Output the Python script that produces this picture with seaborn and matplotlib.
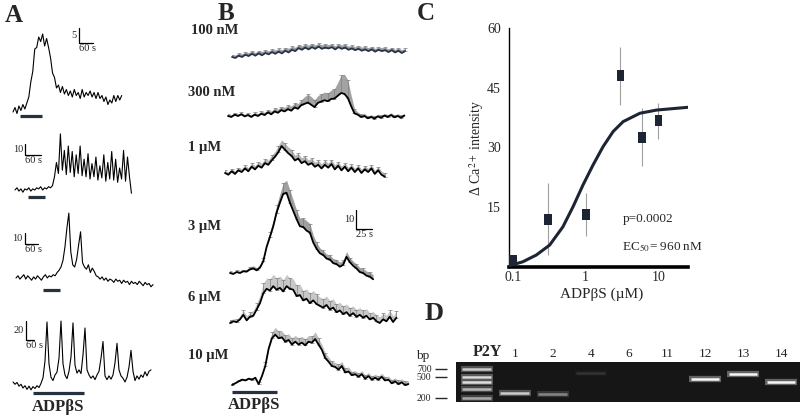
import matplotlib
matplotlib.use('Agg')
import matplotlib.pyplot as plt
import numpy as np
import seaborn as sns
from matplotlib.ticker import NullLocator

sns.set_style('white')
plt.rcParams['font.family'] = ['Liberation Serif', 'DejaVu Serif']
plt.rcParams['mathtext.fontset'] = 'stix'

# ---------------- datos ----------------
# A: trazas de celulas individuales (unidades de la barra de escala)
a1_dt = 8.5
a1 = [0, 1.5, -0.5, 2, 0.5, 2.5, 1, 3, 5, 10, 13.5, 21, 21.5, 25, 23.5, 26, 22, 24.5, 21.5, 18,
      13, 11.5, 8, 9, 6.5, 8.5, 6, 7.5, 5.5, 7, 5, 7.5, 5.5, 6.5, 4.5, 7.5, 5, 6.5, 5.5, 7,
      5, 6.5, 4.5, 6.5, 4.5, 5.5, 3.5, 5, 2.5, 4, 3, 5.5, 3.5, 5.5, 4, 5.5]
a2_dt = 7.5
a2 = [0, 2, -1, 1, -2, 1, 0, 2, -1, 1, 0, 2, 1, 3, 0, 2, 1, 3, 2, 4,
      12, 25, 15, 51, 18, 36, 14, 40, 16, 35, 12, 32, 15, 40, 13, 28, 12, 33, 10, 24,
      12, 30, 9, 22, 11, 32, 8, 25, 10, 35, 9, 28, 7, 20, 10, 36, 8, 30, 12, -3]
a3_dt = 9
a3 = [0, 2, -1, 1, 3, -1, 2, 0, -2, 1, -1, 2, 0, -2, 1, 3, 0, 2, 1, 3,
      2, 5, 7, 10, 16, 28, 45, 59, 24, 12, 10, 17, 30, 42, 14, 10, 8, 12, 5, 9,
      6, 2, 1, -1, 1, -2, 0, -3, -1, -2, -4, -1, -3, -2, -5, -2, -4, -3, -6, -3,
      -5, -4, -6, -3, -5, -7, -4, -6, -5, -8, -6]
a4_dt = 15
a4 = [6.5, 4, 6, 2, 4, 0, 2.5, -1.5, 2, -2, 1.5, -0.5, 2.5, 0.5, 5, 11, 29, 71, 26, 11.5,
      8, 14, 17, 32, 72, 26, 14, 10, 18, 33.5, 70, 24.5, 16, 19.5, 15.5, 35.5, 64.5, 19.5, 14, 10.5,
      13, 9, 14, 18, 32, 50, 13, 9, 13, 9.5, 14, 27, 48, 19.5, 13, 10.5, 6.5, 11.5, 22.5, 40.5,
      18, 8, 13, 9.5, 14, 11.5, 17.5, 13, 18, 19.5]
a_stim = [(30, 125), (49, 114), (124, 202), (150, 532)]   # s
a_scale = [(5, 60), (10, 60), (10, 60), (20, 60)]

# B: medias +- SEM por concentracion
b_dt = 5.2
b_stim = (0, 70)
b_labels = ['100 nM', '300 nM', '1 µM', '3 µM', '6 µM', '10 µM']
b100n = [0, -0.5, 0.7, 0, 1.2, 0.5, 1.7, 0.7, 1.9, 0.9, 2.1, 1.4, 2.6, 1.7, 2.8, 1.9, 3.3, 2.4, 3.8, 3.1,
         4.7, 3.8, 5, 4, 5.2, 4.3, 5.5, 4.3, 5, 4.5, 5.2, 4, 5.2, 4.3, 5, 3.8, 4.5, 3.6, 4.3, 3.3,
         4, 3.1, 4, 2.8, 3.8, 3.1, 3.6, 2.6, 3.6, 2.4, 3.3, 2.1, 3.1]
b100n_sem = [1.2, 1.5, 1.3, 1.6, 1.4, 1.8, 1.5, 1.7, 1.4, 1.9, 1.6, 1.8, 1.5, 2, 1.7, 1.9, 1.6, 2.2, 1.8, 2,
             1.7, 2.1, 1.8, 2.2, 1.9, 2, 1.7, 2.1, 1.8, 2, 1.6, 1.9, 1.7, 2, 1.8, 1.9, 1.6, 1.8, 1.5, 1.9,
             1.6, 1.8, 1.5, 1.7, 1.4, 1.8, 1.5, 1.7, 1.4, 1.6, 1.5, 1.7, 1.4]
b300n = [0, -0.5, 0.7, 0, 0.9, -0.2, 0.5, -0.5, 0.7, 0, 1.2, 0.5, 1.9, 0.9, 2.4, 1.7, 3.1, 2.4, 3.6, 2.8,
         4.5, 3.8, 5.7, 6.4, 7.1, 5.9, 4.7, 6.9, 7.6, 8.3, 7.8, 9, 9.2, 10.7, 12.1, 11.6, 9.5, 5.2, 1.4, 0.7,
         -0.5, 0, -1.2, -0.5, -1.4, -0.2, -0.9, 0.2, -0.5, 0.5, -0.7, 0, -0.9, 0.2]
b300n_sem = [1, 1, 1, 1, 1, 1, 1, 1, 1.2, 1.2, 1.4, 1.4, 1.4, 1.7, 1.7, 1.9, 1.9, 2.1, 2.1, 2.4,
             2.4, 2.6, 2.8, 3.8, 4.3, 4.3, 3.8, 3.8, 4, 4.3, 4.3, 4.7, 5.2, 7.1, 9.5, 10.4, 9.5, 5.7, 2.4, 1.4,
             1.4, 1.4, 1.2, 1.2, 1.2, 1.2, 1.2, 1.2, 1.2, 1.2, 1.2, 1.2, 1.2, 1.2]
b1u = [0, -0.9, 0.9, -0.5, 1.4, 0.5, 2.4, 0.9, 3.3, 1.9, 3.8, 2.8, 5.2, 4.3, 6.6, 8.5, 10.9, 14.2, 12.3, 10.4,
       9, 6.6, 7.6, 5.2, 6.2, 4.3, 5.2, 3.3, 4.3, 2.4, 4.3, 2.8, 4.7, 1.9, 3.8, 1.4, 3.3, 0.9, 2.8, 0.5,
       2.4, 0, 1.9, 0.5, 2.4, -0.5, 1.4, -0.9, -1.9]
b1u_sem = [1.4, 1.4, 1.4, 1.4, 1.4, 1.7, 1.7, 1.9, 1.9, 1.9, 2.1, 2.4, 2.4, 2.4, 2.8, 2.8, 3.3, 3.3, 3.3, 3.3,
           3.3, 2.8, 2.8, 2.8, 2.8, 2.6, 2.6, 2.4, 2.4, 2.4, 2.4, 2.4, 2.4, 2.4, 2.1, 2.1, 2.1, 2.1, 1.9, 1.9,
           1.9, 1.9, 1.9, 1.9, 1.9, 1.9, 1.9, 1.9, 1.9]
b3u = [0, -0.5, 0.5, 0, 0.9, 0.7, 1.9, 2.4, 1.4, 2.8, 6.2, 13.7, 19, 24.6, 31.8, 37, 41.7, 42.2, 37, 32.7,
       28.4, 24.6, 24.2, 22.3, 21.3, 16.1, 12.8, 10.4, 9.5, 7.6, 7.1, 5.2, 4.7, 3.3, 4.3, 8.5, 5.7, 3.8, 2.4, 0.5,
       0, -1.4, -1.9, -3.3]
b3u_sem = [0.9, 0.9, 0.9, 0.9, 0.9, 1.2, 1.4, 1.4, 1.4, 1.7, 1.9, 2.4, 2.8, 3.3, 3.8, 4.7, 5.7, 6.6, 6.6, 5.7,
           4.7, 4.3, 4.7, 5.2, 4.7, 3.8, 3.3, 2.8, 2.4, 2.4, 2.4, 2.4, 2.4, 2.4, 2.4, 2.8, 2.4, 2.4, 2.4, 2.4,
           2.4, 2.4, 2.4, 2.4]
b6u = [0, 0.9, 0.5, 1.9, 4.3, 1.4, 3.3, 3.8, 7.1, 10.4, 15.6, 18, 17.1, 19.4, 17.5, 18.5, 16.6, 19.4, 18, 17.5,
       14.2, 14.7, 11.9, 12.8, 10.4, 11.9, 10, 9, 8.1, 9.5, 7.1, 8.1, 5.7, 6.6, 4.7, 5.7, 3.8, 5.2, 3.3, 4.3,
       2.8, 3.8, 1.9, 2.8, 0.9, 0, 1.9, 0.9, 3.3, 0.5, 2.8]
b6u_sem = [1.4, 1.4, 1.4, 1.9, 2.4, 2.4, 2.4, 2.8, 3.3, 4.3, 5.2, 5.7, 6.2, 6.2, 6.2, 6.2, 6.2, 6.2, 5.7, 5.7,
           5.7, 5.7, 5.2, 5.2, 5.2, 5.2, 5.2, 4.7, 4.7, 4.7, 4.7, 4.7, 4.3, 4.3, 4.3, 4.3, 4.3, 3.8, 3.8, 3.8,
           3.8, 3.8, 3.3, 3.3, 3.3, 3.3, 3.3, 3.3, 3.3, 3.3, 3.3]
b10u = [0, 0.9, 1.9, 2.8, 2.4, 3.3, 2.8, 3.8, 0.5, 4.7, 10, 19, 24.6, 26.5, 24.6, 25.1, 22.8, 23.7, 21.3, 22.8,
        21.3, 22.3, 20.9, 22.8, 22.3, 24.2, 21.3, 18.5, 14.2, 12.3, 10, 9.5, 8.1, 10, 6.6, 7.1, 5.2, 5.7, 4.3, 5.7,
        3.3, 4.7, 2.8, 3.8, 2.8, 4.3, 2.4, 2.8, 0.9, 1.9, 0.5, 1.4, 0, 0.5]
b10u_sem = [0.9, 0.9, 0.9, 0.9, 0.9, 0.9, 0.9, 0.9, 0.9, 1.4, 1.9, 2.8, 3.3, 3.8, 3.8, 3.3, 3.3, 3.3, 3.3, 3.3,
            3.3, 3.3, 3.3, 3.3, 3.3, 3.8, 3.3, 2.8, 2.8, 2.4, 2.4, 2.4, 2.8, 2.4, 2.4, 2.4, 1.9, 1.9, 1.9, 1.9,
            1.9, 1.9, 1.9, 1.9, 1.9, 1.9, 1.9, 1.9, 1.9, 1.9, 1.9, 1.9, 1.9, 1.9]

# C: curva dosis-respuesta
conc = [0.1, 0.3, 1, 3, 6, 10]          # uM
resp = [1.6, 12.0, 13.2, 48.0, 32.6, 36.7]
resp_sem = [0.8, 9.0, 5.4, 7.3, 7.3, 4.5]
fit_x = [0.088, 0.136, 0.209, 0.319, 0.486, 0.668, 0.918, 1.26, 1.73, 2.38, 3.27, 5.56, 9.44, 25.7]
fit_y = [0.3, 1.3, 3.0, 5.5, 10.1, 15.1, 20.6, 25.6, 30.2, 34.0, 36.5, 38.6, 39.4, 40.1]

# D: gel RT-PCR
lanes = ['P2Y', '1', '2', '4', '6', '11', '12', '13', '14']
band_lane = ['P2Y', 'P2Y', 'P2Y', 'P2Y', 'P2Y', '1', '2', '4', '12', '13', '14']
band_bp = [700, 500, 400, 300, 200, 248, 238, 590, 454, 563, 400]
band_level = [0.8, 0.86, 0.88, 0.72, 0.66, 0.8, 0.52, 0.2, 0.97, 0.97, 0.97]
ladder_ticks = [200, 500, 700]

# ---------------- figura ----------------
W, H = 800, 417
fig = plt.figure(figsize=(W / 100, H / 100), dpi=100)


def box(left, top, width, height):
    ax = fig.add_axes([left / W, 1 - (top + height) / H, width / W, height / H])
    ax.patch.set_alpha(0)
    return ax


def trace_axes(x0, yb, width, up, down, s_px, px_unit):
    ax = box(x0, yb - up, width, up + down)
    ax.set_xlim(0, width * s_px)
    ax.set_ylim(-down / px_unit, up / px_unit)
    ax.axis('off')
    return ax


def ptext(x, y, s, **kw):
    fig.text(x / W, 1 - y / H, s, **kw)


def scale_bar(ax, x, y, dy, dx, ylab, xlab, fs=7.5):
    ax.plot([x, x, x + dx], [y + dy, y, y], color='k', lw=0.9, clip_on=False)
    ax.annotate(ylab, (x, y + dy / 2), xytext=(-1.5, 0), textcoords='offset points',
                ha='right', va='center', fontsize=fs)
    ax.annotate(xlab, (x, y), xytext=(0, -1), textcoords='offset points',
                ha='left', va='top', fontsize=fs)


# ---- Panel A ----
navy = '#27303f'
a_layout = [  # x0, y base, width, up, down, s/px, px/unit
    (13, 112, 115, 90, 12, 4.3, 3.0),
    (15, 190, 122, 62, 12, 3.8, 1.1),
    (16, 278, 145, 72, 16, 4.6, 1.1),
    (13, 388, 145, 72, 10, 7.5, 0.93),
]
a_data = [(a1, a1_dt), (a2, a2_dt), (a3, a3_dt), (a4, a4_dt)]
a_bar_off = [4, 7, 12, 5]            # px under the baseline
a_scale_pos = [(284, 23), (38, 32), (41, 31), (97.5, 51.6)]
for (vals, dt), lay, stim, sc, off, sp in zip(a_data, a_layout, a_stim, a_scale, a_bar_off, a_scale_pos):
    x0, yb, w, up, dn, s_px, px_u = lay
    ax = trace_axes(x0, yb, w, up, dn, s_px, px_u)
    t = np.arange(len(vals)) * dt
    sns.lineplot(x=t, y=vals, ax=ax, color='k', lw=0.8, clip_on=False)
    ax.plot(stim, [-off / px_u] * 2, color=navy, lw=2.3, solid_capstyle='butt')
    scale_bar(ax, sp[0], sp[1], sc[0], sc[1], str(sc[0]), '60 s')

ptext(5, 15, 'A', fontsize=18, fontweight='bold', va='center')
ptext(58, 407, 'ADPβS', fontsize=12, fontweight='bold', ha='center', va='center')

# ---- Panel B ----
b_s_px, b_px_u = 1.5625, 1.9
b_series = [(b100n, b100n_sem), (b300n, b300n_sem), (b1u, b1u_sem),
            (b3u, b3u_sem), (b6u, b6u_sem), (b10u, b10u_sem)]
b_layout = [(232, 57), (228, 116), (225, 173), (230, 273), (230, 323), (232, 385)]
b_label_xy = [(191, 30), (188, 92), (188, 148), (188, 227), (188, 298), (188, 355)]
b_fill = ['#9aa0aa', '#a3a3a3', '#b5b5b5', '#a0a0a0', '#c8c8c8', '#bdbdbd']
b_line = ['#2b3444', 'k', 'k', 'k', 'k', 'k']
b_axes = []
for (m, s), (x0, yb), (lx, ly), fc, lc, lab in zip(b_series, b_layout, b_label_xy, b_fill, b_line, b_labels):
    ax = trace_axes(x0, yb, 190, 95, 14, b_s_px, b_px_u)
    b_axes.append(ax)
    n = min(len(m), len(s))
    m = np.array(m[:n], dtype=float)
    s = np.array(s[:n], dtype=float)
    t = np.arange(n) * b_dt
    ax.fill_between(t, m, m + s, color=fc, lw=0)
    ax.errorbar(t[::2], m[::2], yerr=[np.zeros(len(s[::2])), s[::2]], fmt='none',
                ecolor='#7d7d7d', elinewidth=0.5, capsize=1.6, capthick=0.5)
    sns.lineplot(x=t, y=m, ax=ax, color=lc, lw=1.3, clip_on=False)
    ptext(lx, ly, lab, fontsize=10.5, fontweight='bold', va='center')

ax10 = b_axes[5]
ax10.plot(b_stim, [-7 / b_px_u] * 2, color=navy, lw=2.3, solid_capstyle='butt')
scale_bar(b_axes[3], 197, 23.2, 10, 25, '10', '25 s', fs=7.5)

ptext(218, 14, 'B', fontsize=18, fontweight='bold', va='center')
ptext(254, 405, 'ADPβS', fontsize=12, fontweight='bold', ha='center', va='center')

# ---- Panel C ----
axc = box(509, 28, 179, 239)
axc.set_xscale('log')
axc.set_xlim(0.0881, 25.5)
axc.set_ylim(0, 60)
axc.errorbar(conc, resp, yerr=resp_sem, fmt='none', ecolor='#a0a0a0', elinewidth=0.8, zorder=2)
sns.lineplot(x=fit_x, y=fit_y, ax=axc, color='#1d2433', lw=2.2, zorder=3)
rect = [(-0.35, -0.5), (0.35, -0.5), (0.35, 0.5), (-0.35, 0.5), (-0.35, -0.5)]
sns.scatterplot(x=conc, y=resp, ax=axc, marker=rect, s=64, color='#1d2433',
                edgecolor='none', zorder=4)
axc.set_yticks([15, 30, 45, 60])
axc.set_xticks([0.1, 1, 10])
axc.set_xticklabels(['0.1', '1', '10'])
axc.xaxis.set_minor_locator(NullLocator())
axc.tick_params(axis='both', length=0, labelsize=10)
axc.tick_params(axis='y', pad=6)
axc.tick_params(axis='x', pad=3)
for side in ['top', 'right']:
    axc.spines[side].set_visible(False)
axc.spines['left'].set_linewidth(1.0)
axc.spines['bottom'].set_linewidth(2.6)
axc.spines['left'].set_color('k')
axc.spines['bottom'].set_color('k')
axc.set_ylabel('Δ Ca$^{2+}$ intensity', fontsize=10)
axc.yaxis.set_label_coords(-0.13, 0.5)
axc.set_xlabel('ADPβS (µM)', fontsize=11)
axc.xaxis.set_label_coords(0.52, -0.085)
axc.text(0.777, 0.2, 'p=0.0002', transform=axc.transAxes, fontsize=9.5, ha='center', va='center')
axc.text(0.63, 0.085, 'EC$_{50}$= 960 nM', transform=axc.transAxes, fontsize=9.5, ha='left', va='center')
ptext(417, 13, 'C', fontsize=18, fontweight='bold', va='center')

# ---- Panel D ----
axd = box(456, 362, 344, 40)
axd.patch.set_alpha(1)
axd.set_facecolor('#161616')
axd.set_xlim(-0.55, 8.5)
axd.set_yscale('log')
axd.set_ylim(168, 946)
for lane, bp, lev in zip(band_lane, band_bp, band_level):
    i = lanes.index(lane)
    axd.hlines(bp, i - 0.42, i + 0.42, color=str(max(0.1, lev * 0.4)), lw=4.5)
    axd.hlines(bp, i - 0.38, i + 0.38, color=str(lev), lw=1.8)
for sp_ in axd.spines.values():
    sp_.set_visible(False)
axd.spines['left'].set_position(('outward', 6.5))
axd.set_yticks(ladder_ticks)
axd.set_yticklabels([str(v) for v in ladder_ticks])
axd.yaxis.set_minor_locator(NullLocator())
axd.tick_params(axis='y', length=8.6, width=1.0, pad=2.5, labelsize=7, left=True, direction='out')
axd.xaxis.tick_top()
axd.set_xticks(range(len(lanes)))
axd.set_xticklabels([''] + lanes[1:])
axd.tick_params(axis='x', length=0, pad=1.5, labelsize=9.5)
# etiqueta del marcador, un poco a la derecha del carril
axd.annotate(lanes[0], (0, 1), xycoords=('data', 'axes fraction'), xytext=(7.5, 1.5),
             textcoords='offset points', ha='center', va='bottom', fontsize=11.5, fontweight='bold')
ptext(423, 356, 'bp', fontsize=9.5, ha='center', va='center')
ptext(425, 313, 'D', fontsize=19, fontweight='bold', va='center')

fig.savefig('out.png', dpi=100)
